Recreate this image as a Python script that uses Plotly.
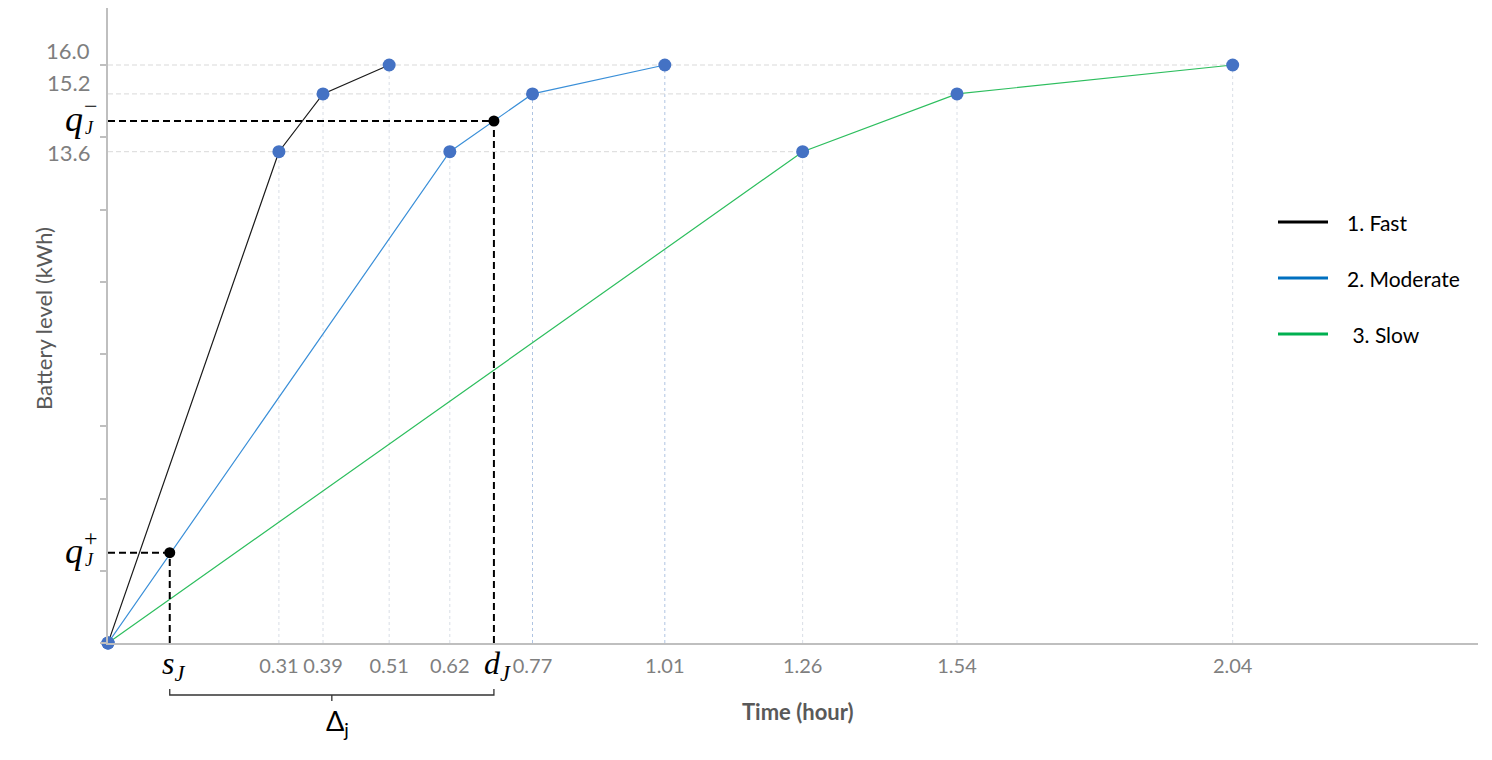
import plotly.graph_objects as go

# charging profiles: time (hour) vs battery level (kWh)
fast_t = [0, 0.31, 0.39, 0.51]
fast_q = [0, 13.6, 15.2, 16.0]
moderate_t = [0, 0.62, 0.77, 1.01]
moderate_q = [0, 13.6, 15.2, 16.0]
slow_t = [0, 1.26, 1.54, 2.04]
slow_q = [0, 13.6, 15.2, 16.0]

series_names = ["1. Fast", "2. Moderate", " 3. Slow"]
line_colors = ["#1a1a1a", "#3A8FD8", "#2DBE5E"]
legend_colors = ["#000000", "#0070C0", "#00B050"]

level_labels = ["16.0", "15.2", "13.6"]
level_values = [16.0, 15.2, 13.6]

# job window on the moderate profile
s_j, q_plus = 0.112, 2.5
d_j, q_minus = 0.70, 14.45

# page body adds an 8px margin around the figure
OFF = 8
W, H = 1484, 752
L, R, T, B = 100, 14, 0, 117
PW, PH = W - L - R, H - T - B
X_MAX = 2.485
Y_MAX = PH / 36.125

GRAY = "#7F7F7F"
SERIF = "Liberation Serif, DejaVu Serif, serif"
SANS = "Lato, Open Sans, sans-serif"


def px_x(px):
    return (px - OFF - L) / PW


def px_y(py):
    return 1 - (py - OFF - T) / PH


fig = go.Figure()
shapes = []
annotations = []

# dashed guide lines from each point to the axes
all_t = fast_t[1:] + moderate_t[1:] + slow_t[1:]
all_q = fast_q[1:] + moderate_q[1:] + slow_q[1:]
for t, q in zip(all_t, all_q):
    col = "#AFC4E2" if t in moderate_t[2:] else "#D9DEE6"
    shapes.append(dict(type="line", xref="x", yref="y", x0=t, x1=t, y0=0, y1=q,
                       line=dict(color=col, width=1, dash="3px,3px"), layer="below"))
for q, t in zip(slow_q[1:], slow_t[1:]):
    shapes.append(dict(type="line", xref="x", yref="y", x0=0, x1=t, y0=q, y1=q,
                       line=dict(color="#D9D9D9", width=1, dash="5px,3px"), layer="below"))

# profile lines
for t, q, c in zip([fast_t, moderate_t, slow_t], [fast_q, moderate_q, slow_q], line_colors):
    fig.add_trace(go.Scatter(x=t, y=q, mode="lines", line=dict(color=c, width=1.2),
                             showlegend=False, hoverinfo="skip", cliponaxis=False))
for t, q in zip([fast_t, moderate_t, slow_t], [fast_q, moderate_q, slow_q]):
    fig.add_trace(go.Scatter(x=t, y=q, mode="markers", marker=dict(color="#4472C4", size=13),
                             showlegend=False, cliponaxis=False))

# job start / deadline markers with dashed projections
for t, q in [(s_j, q_plus), (d_j, q_minus)]:
    shapes.append(dict(type="line", xref="x", yref="y", x0=0, x1=t, y0=q, y1=q,
                       line=dict(color="black", width=2, dash="7px,4px")))
    shapes.append(dict(type="line", xref="x", yref="y", x0=t, x1=t, y0=0, y1=q,
                       line=dict(color="black", width=2, dash="7px,4px")))
fig.add_trace(go.Scatter(x=[s_j, d_j], y=[q_plus, q_minus], mode="markers",
                         marker=dict(color="black", size=11), showlegend=False))

# level labels on y axis
for lab, v, dy in zip(level_labels, level_values, [15, 11, -1]):
    annotations.append(dict(x=0, xref="paper", y=v, yref="y", text=lab, showarrow=False,
                            xanchor="right", yanchor="middle", xshift=-16, yshift=dy,
                            font=dict(family=SANS, size=22, color=GRAY)))

# q labels (stacked sub/superscripts)
for q, sup in [(q_minus, "\u2212"), (q_plus, "+")]:
    annotations.append(dict(x=0, xref="paper", y=q, yref="y", text="<i>q</i>", showarrow=False,
                            xanchor="right", yanchor="middle", xshift=-23, yshift=2,
                            font=dict(family=SERIF, size=36, color="black")))
    annotations.append(dict(x=0, xref="paper", y=q, yref="y", text=sup, showarrow=False,
                            xanchor="center", yanchor="middle", xshift=-17, yshift=15,
                            font=dict(family=SERIF, size=24, color="black")))
    annotations.append(dict(x=0, xref="paper", y=q, yref="y", text="<i>J</i>", showarrow=False,
                            xanchor="center", yanchor="middle", xshift=-19, yshift=-7,
                            font=dict(family=SERIF, size=18, color="black")))

# s_J and d_J labels under axis
for t, ch in [(s_j, "s"), (d_j, "d")]:
    annotations.append(dict(x=t, xref="x", y=px_y(665), yref="paper",
                            text=f"<i>{ch}</i><sub><i>J</i></sub>", showarrow=False,
                            xanchor="center", yanchor="middle", xshift=4,
                            font=dict(family=SERIF, size=32, color="black")))

# brace spanning the job window
xa, xb = s_j / X_MAX, d_j / X_MAX
xm = (xa + xb) / 2
y_top, y_mid, y_low = px_y(689), px_y(695), px_y(701)
shapes.append(dict(type="path", xref="paper", yref="paper",
                   path=f"M {xa} {y_top} L {xa} {y_mid} L {xb} {y_mid} L {xb} {y_top} "
                        f"M {xm} {y_mid} L {xm} {y_low}",
                   line=dict(color="#333333", width=1.3)))
annotations.append(dict(x=xm, xref="paper", y=px_y(722), yref="paper",
                        text="\u0394<sub>j</sub>", showarrow=False, xanchor="center",
                        yanchor="middle", xshift=6,
                        font=dict(family=SANS, size=27, color="black")))

# axis titles
annotations.append(dict(x=px_x(798), xref="paper", y=px_y(711), yref="paper",
                        text="<b>Time (hour)</b>", showarrow=False,
                        xanchor="center", yanchor="middle",
                        font=dict(family=SANS, size=22, color="#595959")))
annotations.append(dict(x=px_x(43), xref="paper", y=px_y(319), yref="paper",
                        text="Battery level (kWh)", showarrow=False, textangle=-90,
                        xanchor="center", yanchor="middle",
                        font=dict(family=SANS, size=22, color="#595959")))

# hand-drawn legend
for i, (name, col) in enumerate(zip(series_names, legend_colors)):
    yy = px_y(222 + 56 * i)
    shapes.append(dict(type="line", xref="paper", yref="paper", x0=px_x(1278), x1=px_x(1328),
                       y0=yy, y1=yy, line=dict(color=col, width=3)))
    annotations.append(dict(x=px_x(1345), xref="paper", y=yy, yref="paper", text=name,
                            showarrow=False, xanchor="left", yanchor="middle",
                            font=dict(family=SANS, size=21, color="black")))

tick_t = fast_t[1:] + moderate_t[1:] + slow_t[1:]
fig.update_layout(
    width=W, height=H,
    margin=dict(l=L, r=R, t=T, b=B, pad=0),
    paper_bgcolor="white", plot_bgcolor="white",
    showlegend=False,
    shapes=shapes, annotations=annotations,
    xaxis=dict(range=[0, X_MAX], showgrid=False, zeroline=False,
               showline=True, linecolor="#BFBFBF", linewidth=1.5,
               tickvals=tick_t, ticktext=[f"{t:.2f}" for t in tick_t],
               ticks="outside", ticklen=4, tickcolor="rgba(0,0,0,0)",
               tickfont=dict(family=SANS, size=20, color=GRAY)),
    yaxis=dict(range=[0, Y_MAX], showgrid=False, zeroline=False,
               showline=True, linecolor="#BFBFBF", linewidth=2,
               tickvals=list(range(0, 17, 2)), showticklabels=False,
               ticks="outside", ticklen=6, tickcolor="#BFBFBF", tickwidth=1.5),
)

fig.write_html("out.html")
